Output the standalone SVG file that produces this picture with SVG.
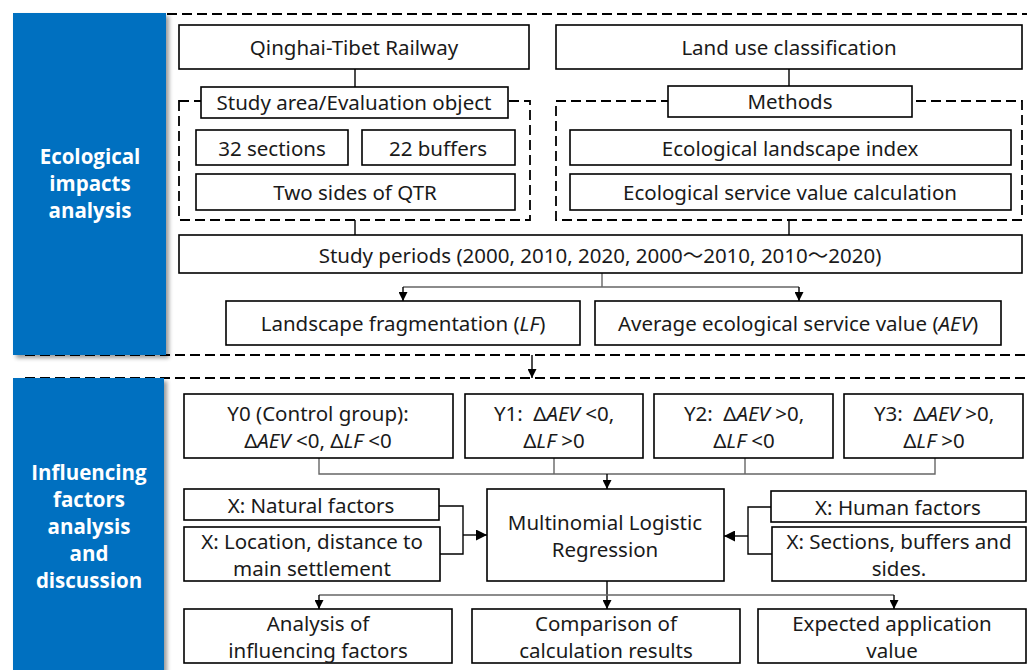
<svg xmlns="http://www.w3.org/2000/svg" width="1027" height="670" viewBox="0 0 1027 670">
<defs>
<style>
.box{fill:#fff;stroke:#000;stroke-width:1.6}
.dash{fill:none;stroke:#000;stroke-width:1.8;stroke-dasharray:10,5}
.t{font-family:"Noto Sans","Noto Sans CJK SC","Open Sans",sans-serif;font-size:20.5px;fill:#1a1a1a;text-anchor:middle;dominant-baseline:central;white-space:pre}
.side{font-family:"Open Sans","Noto Sans",sans-serif;font-size:20.5px;font-weight:bold;fill:#fff;text-anchor:middle}
.c{fill:none;stroke:#000;stroke-width:1.4}
.g{fill:none;stroke:#666;stroke-width:1.4}
.it{font-style:italic}
</style>
<marker id="ah" viewBox="0 0 10 10" refX="10" refY="5" markerWidth="9" markerHeight="9" orient="auto" markerUnits="userSpaceOnUse"><path d="M0,0 L10,5 L0,10 z" fill="#000"/></marker>
<marker id="ahs" viewBox="0 0 10 10" refX="10" refY="5" markerWidth="11" markerHeight="11" orient="auto" markerUnits="userSpaceOnUse"><path d="M0,0 L10,5 L0,10 z" fill="#000"/></marker>
<filter id="sh" x="-10%" y="-10%" width="130%" height="130%"><feGaussianBlur in="SourceAlpha" stdDeviation="2"/><feOffset dx="3" dy="3"/><feComponentTransfer><feFuncA type="linear" slope="0.4"/></feComponentTransfer><feMerge><feMergeNode/><feMergeNode in="SourceGraphic"/></feMerge></filter>
</defs>
<rect width="1027" height="670" fill="#fff"/>

<g id="frames">
<path class="dash" d="M167,14 H1030 M25,355 H1030"/>
<path class="dash" d="M25,378 H1030"/>
<rect class="dash" x="179" y="101" width="351" height="119"/>
<rect class="dash" x="556" y="101" width="466" height="119"/>
</g>

<g id="panel1"><rect x="13" y="13" width="153" height="342" fill="#0070C0" filter="url(#sh)"/>
<text class="side" x="90" y="164">Ecological</text><text class="side" x="90" y="191">impacts</text><text class="side" x="90" y="218">analysis</text></g>
<g id="panel2"><rect x="13" y="378" width="151" height="300" fill="#0070C0" filter="url(#sh)"/>
<text class="side" x="89" y="480">Influencing</text><text class="side" x="89" y="507">factors</text><text class="side" x="89" y="534">analysis</text><text class="side" x="89" y="561">and</text><text class="side" x="89" y="588">discussion</text></g>

<g id="connectors">
<path class="c" d="M355,69 V87 M789,69 V86 M355,220 V235 M789,220 V235"/>
<path class="g" d="M602,273 V287 M403,287 H799"/>
<path class="c" d="M403,287 V301" marker-end="url(#ah)"/>
<path class="c" d="M799,287 V301" marker-end="url(#ah)"/>
<path class="c" d="M532,355 V378" marker-end="url(#ah)"/>
<path class="g" d="M319,458 V474 H935 V458 M554,458 V474 M745,458 V474"/>
<path class="c" d="M607,474 V489" marker-end="url(#ah)"/>
<path class="c" d="M439,506 H463 V554 H440"/>
<path class="c" d="M463,535 H487" marker-end="url(#ahs)"/>
<path class="c" d="M771,507 H748 V554 H772"/>
<path class="c" d="M748,536 H724" marker-end="url(#ahs)"/>
<path class="c" d="M607,581 V609" marker-end="url(#ah)"/>
<path class="g" d="M319,595 H894"/>
<path class="c" d="M319,595 V609" marker-end="url(#ah)"/>
<path class="c" d="M894,595 V609" marker-end="url(#ah)"/>
</g>

<g id="n-qtr"><rect class="box" x="179" y="25" width="350" height="44"/><text class="t" x="354" y="47">Qinghai-Tibet Railway</text></g>
<g id="n-land"><rect class="box" x="556" y="25" width="466" height="44"/><text class="t" x="789" y="47">Land use classification</text></g>
<g id="n-study"><rect class="box" x="201" y="87" width="307" height="31"/><text class="t" x="354" y="102">Study area/Evaluation object</text></g>
<g id="n-methods"><rect class="box" x="668" y="86" width="244" height="31"/><text class="t" x="790" y="101">Methods</text></g>
<g id="n-32"><rect class="box" x="196" y="130" width="152" height="35"/><text class="t" x="272" y="148">32 sections</text></g>
<g id="n-22"><rect class="box" x="362" y="130" width="153" height="35"/><text class="t" x="438" y="148">22 buffers</text></g>
<g id="n-two"><rect class="box" x="196" y="174" width="319" height="36"/><text class="t" x="355" y="192">Two sides of QTR</text></g>
<g id="n-eli"><rect class="box" x="570" y="130" width="441" height="35"/><text class="t" x="790" y="148">Ecological landscape index</text></g>
<g id="n-esv"><rect class="box" x="570" y="174" width="441" height="36"/><text class="t" x="790" y="192">Ecological service value calculation</text></g>
<g id="n-periods"><rect class="box" x="179" y="235" width="843" height="38"/><text class="t" x="600" y="255">Study periods (2000, 2010, 2020, 2000～2010, 2010～2020)</text></g>
<g id="n-lf"><rect class="box" x="226" y="301" width="354" height="44"/><text class="t" x="403" y="323">Landscape fragmentation (<tspan class="it">LF</tspan>)</text></g>
<g id="n-aev"><rect class="box" x="595" y="301" width="406" height="44"/><text class="t" x="798" y="323">Average ecological service value (<tspan class="it">AEV</tspan>)</text></g>

<g id="n-y0"><rect class="box" x="184" y="394" width="269" height="64"/><text class="t" x="318" y="413">Y0 (Control group):</text><text class="t" x="318" y="440">Δ<tspan class="it">AEV</tspan> &lt;0, Δ<tspan class="it">LF</tspan> &lt;0</text></g>
<g id="n-y1"><rect class="box" x="465" y="394" width="178" height="64"/><text class="t" x="554" y="413">Y1:  Δ<tspan class="it">AEV</tspan> &lt;0,</text><text class="t" x="554" y="440">Δ<tspan class="it">LF</tspan> &gt;0</text></g>
<g id="n-y2"><rect class="box" x="654" y="394" width="179" height="64"/><text class="t" x="744" y="413">Y2:  Δ<tspan class="it">AEV</tspan> &gt;0,</text><text class="t" x="744" y="440">Δ<tspan class="it">LF</tspan> &lt;0</text></g>
<g id="n-y3"><rect class="box" x="844" y="394" width="179" height="64"/><text class="t" x="934" y="413">Y3:  Δ<tspan class="it">AEV</tspan> &gt;0,</text><text class="t" x="934" y="440">Δ<tspan class="it">LF</tspan> &gt;0</text></g>
<g id="n-nat"><rect class="box" x="184" y="489" width="255" height="31"/><text class="t" x="311" y="505">X: Natural factors</text></g>
<g id="n-loc"><rect class="box" x="184" y="527" width="256" height="54"/><text class="t" x="312" y="541">X: Location, distance to</text><text class="t" x="312" y="568">main settlement</text></g>
<g id="n-mlr"><rect class="box" x="487" y="489" width="237" height="92"/><text class="t" x="605" y="522">Multinomial Logistic</text><text class="t" x="605" y="549">Regression</text></g>
<g id="n-hum"><rect class="box" x="771" y="491" width="255" height="31"/><text class="t" x="898" y="507">X: Human factors</text></g>
<g id="n-sec"><rect class="box" x="772" y="527" width="254" height="54"/><text class="t" x="899" y="541">X: Sections, buffers and</text><text class="t" x="899" y="568">sides.</text></g>
<g id="n-ana"><rect class="box" x="184" y="609" width="268" height="54"/><text class="t" x="318" y="623">Analysis of</text><text class="t" x="318" y="650">influencing factors</text></g>
<g id="n-cmp"><rect class="box" x="472" y="609" width="268" height="54"/><text class="t" x="606" y="623">Comparison of</text><text class="t" x="606" y="650">calculation results</text></g>
<g id="n-exp"><rect class="box" x="758" y="609" width="268" height="54"/><text class="t" x="892" y="623">Expected application</text><text class="t" x="892" y="650">value</text></g>
</svg>
